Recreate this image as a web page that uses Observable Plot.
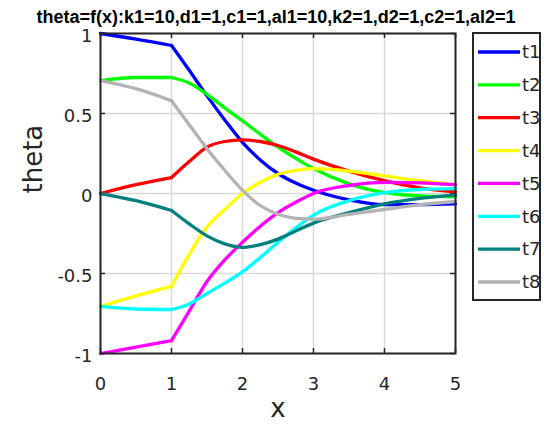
<!DOCTYPE html>
<html><head><meta charset="utf-8">
<script src="https://cdn.jsdelivr.net/npm/d3@7"></script>
<script src="https://cdn.jsdelivr.net/npm/@observablehq/plot@0.6"></script>
<style>
body{margin:0;background:#fff;}
#wrap{position:relative;width:544px;height:429px;overflow:hidden;}
#legend{position:absolute;left:472px;top:32px;}
</style></head><body>
<div id="wrap"></div>
<script>
const titleText = "theta=f(x):k1=10,d1=1,c1=1,al1=10,k2=1,d2=1,c2=1,al2=1";
const xLabel = "x";
const yLabel = "theta";
const xs = [0, 0.5, 1, 1.25, 1.5, 1.75, 2, 2.25, 2.5, 2.75, 3, 3.5, 4, 4.5, 5];
const seriesNames = ["t1", "t2", "t3", "t4", "t5", "t6", "t7", "t8"];
const seriesColors = ["#0000ff", "#00ff00", "#ff0000", "#ffff00", "#ff00ff", "#00ffff", "#007f7f", "#b3b3b3"];
const t1 = [1.0, 0.965, 0.925, 0.77, 0.61, 0.46, 0.32, 0.21, 0.125, 0.065, 0.02, -0.04, -0.07, -0.07, -0.065];
const t2 = [0.706, 0.725, 0.725, 0.69, 0.62, 0.535, 0.455, 0.37, 0.29, 0.22, 0.156, 0.06, 0.005, -0.015, -0.02];
const t3 = [0, 0.055, 0.10, 0.20, 0.29, 0.325, 0.335, 0.325, 0.30, 0.26, 0.215, 0.14, 0.08, 0.035, 0.01];
const t4 = [-0.706, -0.64, -0.58, -0.38, -0.21, -0.10, 0.0, 0.07, 0.12, 0.145, 0.155, 0.14, 0.11, 0.08, 0.055];
const t5 = [-1, -0.96, -0.92, -0.735, -0.55, -0.415, -0.305, -0.205, -0.12, -0.055, 0.0, 0.05, 0.07, 0.067, 0.055];
const t6 = [-0.706, -0.722, -0.725, -0.69, -0.625, -0.56, -0.49, -0.40, -0.305, -0.215, -0.135, -0.045, 0.005, 0.025, 0.03];
const t7 = [0, -0.045, -0.106, -0.19, -0.265, -0.315, -0.337, -0.32, -0.285, -0.235, -0.185, -0.12, -0.065, -0.03, -0.01];
const t8 = [0.706, 0.655, 0.58, 0.43, 0.28, 0.145, 0.02, -0.075, -0.13, -0.155, -0.16, -0.13, -0.1, -0.07, -0.05];
const xTicks = [0, 1, 2, 3, 4, 5];
const xTickLabels = ["0", "1", "2", "3", "4", "5"];
const yTicks = [-1, -0.5, 0, 0.5, 1];
const yTickLabels = ["-1", "-0.5", "0", "0.5", "1"];

const values = [t1, t2, t3, t4, t5, t6, t7, t8];
const rows = [];
seriesNames.forEach((name, i) => {
  xs.forEach((x, j) => {
    const v = values[i][j];
    if (x <= 1) rows.push({series: name, seg: "a", x, y: v});
    if (x >= 1) rows.push({series: name, seg: "b", x, y: v});
  });
});

const W = 544, H = 429, mL = 100, mR = 89, mT = 33, mB = 76;
const fw = W - mL - mR, fh = H - mT - mB;
const frameColor = "#262626";
const tickLen = 5;

const chart = Plot.plot({
  width: W, height: H,
  marginLeft: mL, marginRight: mR, marginTop: mT, marginBottom: mB,
  style: {fontFamily: "DejaVu Sans", fontSize: "18px", color: "#262626", background: "white"},
  x: {domain: [0, 5]},
  y: {domain: [-1, 1]},
  color: {domain: seriesNames, range: seriesColors},
  marks: [
    Plot.frame({fill: "white"}),
    Plot.gridX(xTicks, {stroke: "#d9d9d9", strokeOpacity: 1, strokeWidth: 1.5}),
    Plot.gridY(yTicks, {stroke: "#d9d9d9", strokeOpacity: 1, strokeWidth: 1.5}),
    Plot.ruleY(yTicks, {stroke: frameColor, strokeWidth: 1.5, insetRight: fw - tickLen}),
    Plot.ruleY(yTicks, {stroke: frameColor, strokeWidth: 1.5, insetLeft: fw - tickLen}),
    Plot.ruleX(xTicks, {stroke: frameColor, strokeWidth: 1.5, insetTop: fh - tickLen}),
    Plot.ruleX(xTicks, {stroke: frameColor, strokeWidth: 1.5, insetBottom: fh - tickLen}),
    Plot.line(rows, {x: "x", y: "y", z: d => d.series + d.seg, stroke: "series", strokeWidth: 3.3, curve: "monotone-x"}),
    Plot.frame({stroke: frameColor, strokeWidth: 2}),
    Plot.axisX(xTicks, {tickSize: 0, tickPadding: 24, tickFormat: (d, i) => xTickLabels[i], fontSize: 18, label: null}),
    Plot.axisY(yTicks, {tickSize: 0, tickPadding: 8, dy: 3, tickFormat: (d, i) => yTickLabels[i], fontSize: 18, label: null}),
    Plot.text([yLabel], {frameAnchor: "left", dx: -67, rotate: -90, fontSize: 26, fill: "#262626"}),
    Plot.text([xLabel], {frameAnchor: "bottom", dy: 63, fontSize: 26, fill: "#262626"}),
    Plot.text([titleText], {frameAnchor: "top", dx: -2, dy: -11, lineAnchor: "bottom", fontWeight: "bold", fontSize: 18, fontFamily: "Liberation Sans", fill: "black"})
  ]
});
document.getElementById("wrap").appendChild(chart);

// legend
const lg = d3.select("#wrap").append("svg").attr("id", "legend").attr("width", 70).attr("height", 270);
lg.append("rect").attr("x", 1).attr("y", 1).attr("width", 67).attr("height", 267)
  .attr("fill", "white").attr("stroke", frameColor).attr("stroke-width", 2);
seriesNames.forEach((name, i) => {
  const y = 20 + i * 32.86;
  lg.append("line").attr("x1", 6).attr("x2", 48).attr("y1", y).attr("y2", y)
    .attr("stroke", seriesColors[i]).attr("stroke-width", 3.3);
  lg.append("text").attr("x", 50).attr("y", y).attr("dy", "0.35em")
    .attr("font-family", "DejaVu Sans").attr("font-size", 18).attr("fill", "#262626").text(name);
});
</script>
</body></html>
